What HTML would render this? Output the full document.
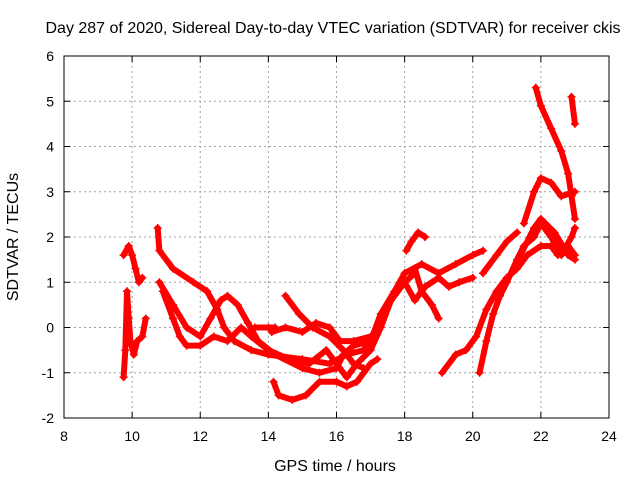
<!DOCTYPE html>
<html><head><meta charset="utf-8"><style>
body{margin:0;background:#fff}
svg text{font-family:"Liberation Sans",sans-serif;font-size:14px;fill:#000}
svg text.big{font-size:16px}
</style></head><body>
<svg id="chart" width="640" height="480">
<text class="big" x="333" y="33" text-anchor="middle">Day 287 of 2020, Sidereal Day-to-day VTEC variation (SDTVAR) for receiver ckis</text>
<text class="big" x="335" y="471" text-anchor="middle">GPS time / hours</text>
<text class="big" transform="translate(18,237) rotate(-90)" text-anchor="middle">SDTVAR / TECUs</text>
<g id="grid"></g><g id="marks"></g>
<rect x="64" y="56" width="545" height="362" fill="none" stroke="#000"/>
</svg>
<script>
const xTicks=[8,10,12,14,16,18,20,22,24];
const yTicks=[-2,-1,0,1,2,3,4,5,6];
const trackA=[[9.75,-1.1],[9.8,-0.5],[9.85,0.8],[9.9,0.2],[9.95,-0.3],[10.05,-0.6],[10.15,-0.3],[10.3,-0.2],[10.4,0.2]];
const trackB=[[9.75,1.6],[9.9,1.8],[10.0,1.6],[10.1,1.3],[10.2,1.0],[10.3,1.1]];
const trackC=[[10.75,2.2],[10.8,1.7],[11.2,1.3],[11.8,1.0],[12.2,0.8],[12.5,0.4],[12.7,0.0],[13.0,-0.3],[13.5,-0.5],[14.0,-0.6],[15.0,-0.7],[15.8,-0.8],[16.3,-0.6],[16.8,-0.5],[17.2,0.0],[17.5,0.5],[18.0,1.0],[18.3,1.2]];
const trackD=[[10.8,1.0],[11.2,0.5],[11.6,0.0],[12.0,-0.2],[12.3,0.2],[12.6,0.6],[12.8,0.7],[13.1,0.5],[13.4,0.1],[13.7,-0.3],[14.2,-0.6],[15.0,-0.9],[15.5,-1.0],[16.0,-0.9],[16.2,-0.6],[16.5,-0.4],[17.0,-0.3],[17.3,0.3],[17.7,0.8],[18.0,1.2],[18.5,1.4],[19.0,1.2],[19.5,1.4],[20.0,1.6],[20.3,1.7]];
const trackE=[[10.9,0.8],[11.2,0.2],[11.4,-0.2],[11.6,-0.4],[12.0,-0.4],[12.4,-0.2],[12.8,-0.3],[13.2,0.0],[13.5,-0.2],[14.0,-0.5],[14.6,-0.7],[15.2,-0.8],[15.7,-0.5],[16.0,-0.8],[16.3,-1.1],[16.6,-0.8],[17.0,-0.5],[17.3,0.0],[17.6,0.6],[18.0,1.0],[18.3,0.6],[18.6,0.9],[19.0,1.1],[19.3,0.9],[19.6,1.0],[20.0,1.1]];
const trackF=[[13.6,0.0],[14.0,0.0],[14.2,0.0]];
const trackG=[[14.15,-1.2],[14.3,-1.5],[14.7,-1.6],[15.1,-1.5],[15.5,-1.2],[16.0,-1.2],[16.3,-1.3],[16.6,-1.2],[17.0,-0.8],[17.2,-0.7]];
const trackH=[[14.5,0.7],[14.9,0.3],[15.3,0.0],[15.8,-0.2],[16.2,-0.5],[16.5,-0.8],[16.8,-0.9]];
const trackI=[[14.1,-0.1],[14.5,0.0],[15.0,-0.1],[15.4,0.1],[15.8,0.0],[16.1,-0.3],[16.5,-0.3],[17.0,-0.2]];
const trackJ=[[18.05,1.7],[18.2,1.9],[18.4,2.1],[18.6,2.0]];
const trackK=[[18.3,1.3],[18.5,0.8],[18.8,0.5],[19.0,0.2]];
const trackL=[[19.1,-1.0],[19.5,-0.6],[19.8,-0.5],[20.1,-0.2],[20.4,0.4],[20.7,0.8],[21.0,1.1],[21.3,1.3],[21.6,1.6],[22.0,1.8],[22.3,1.8],[22.5,1.6],[22.8,1.8],[23.0,1.6]];
const trackM=[[20.2,-1.0],[20.4,-0.3],[20.6,0.3],[20.8,0.7],[21.0,1.0],[21.3,1.5],[21.5,1.8],[21.8,2.0],[22.0,2.3],[22.3,2.0],[22.6,1.6],[22.9,2.0],[23.0,2.2]];
const trackN=[[21.85,5.3],[22.0,4.9],[22.3,4.4],[22.6,3.9],[22.8,3.4],[22.9,2.9],[23.0,2.4]];
const trackO=[[22.9,5.1],[23.0,4.5]];
const trackP=[[21.5,2.3],[21.8,3.0],[22.0,3.3],[22.3,3.2],[22.6,2.9],[23.0,3.0]];
const trackQ=[[21.4,1.6],[21.8,2.2],[22.0,2.4],[22.4,2.1],[22.8,1.6],[23.0,1.5]];
const trackR=[[20.3,1.2],[20.7,1.6],[21.0,1.9],[21.3,2.1]];
const tracks=[trackA,trackB,trackC,trackD,trackE,trackF,trackG,trackH,trackI,trackJ,trackK,trackL,trackM,trackN,trackO,trackP,trackQ,trackR];

const X0=64,X1=609,Y0=418,Y1=56;
function sx(h){return X0+(h-8)/(24-8)*(X1-X0);}
function sy(v){return Y0-(v+2)/(6+2)*(Y0-Y1);}
const NS="http://www.w3.org/2000/svg";
const grid=document.getElementById('grid'),marks=document.getElementById('marks');
function mk(tag,attrs,parent){const e=document.createElementNS(NS,tag);for(const k in attrs)e.setAttribute(k,attrs[k]);parent.appendChild(e);return e;}
xTicks.forEach(t=>{
  const x=sx(t);
  if(t>8&&t<24){const g=mk('line',{x1:x,x2:x,y1:Y1,y2:Y0,stroke:'#a0a0a0','stroke-dasharray':'2,3'},grid);
  
  }
  mk('line',{x1:x,x2:x,y1:Y0,y2:Y0-6,stroke:'#000'},grid);
  mk('line',{x1:x,x2:x,y1:Y1,y2:Y1+6,stroke:'#000'},grid);
  const l=mk('text',{x:x,y:Y0+23,'text-anchor':'middle'},grid);l.textContent=t;
  
  
});
yTicks.forEach(t=>{
  const y=sy(t);
  if(t>-2&&t<6){const g=mk('line',{x1:X0,x2:X1,y1:y,y2:y,stroke:'#a0a0a0','stroke-dasharray':'2,3'},grid);
  
  }
  mk('line',{x1:X0,x2:X0+6,y1:y,y2:y,stroke:'#000'},grid);
  mk('line',{x1:X1,x2:X1-6,y1:y,y2:y,stroke:'#000'},grid);
  const l=mk('text',{x:X0-10,y:y+5,'text-anchor':'end'},grid);l.textContent=t;
  
  
});
tracks.forEach((tr,i)=>{
  const g=mk('g',{},marks);
  
  
  mk('polyline',{points:tr.map(p=>sx(p[0])+','+sy(p[1])).join(' '),fill:'none',stroke:'#ff0000','stroke-width':6,'stroke-linejoin':'round','stroke-linecap':'round'},g);
  tr.forEach(p=>{
    const x=sx(p[0]),y=sy(p[1]);
    const m=mk('path',{d:`M${x-4},${y}H${x+4}M${x},${y-4}V${y+4}`,stroke:'#ff0000','stroke-width':1.5},g);
    
    
  });
});
</script>
</body></html>
